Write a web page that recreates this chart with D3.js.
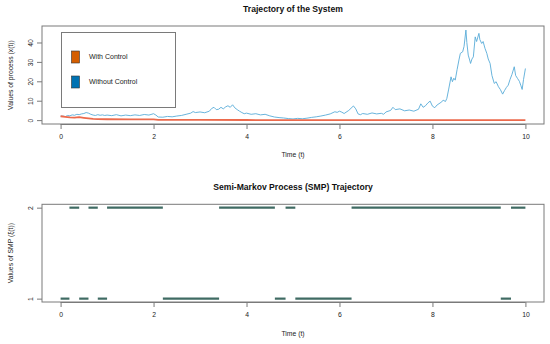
<!DOCTYPE html>
<html><head><meta charset="utf-8">
<script src="https://cdn.jsdelivr.net/npm/d3@7"></script>
<style>body{margin:0;background:#fff}svg{display:block;font-family:"Liberation Sans",Arial,sans-serif}</style>
</head><body><svg id="c" width="550" height="344"></svg>
<script>
// ---- data ----
const xTicks = [0, 2, 4, 6, 8, 10];
const yTicksTop = [0, 10, 20, 30, 40];
const yTicksBottom = [1, 2];
const seriesNames = ["With Control", "Without Control"];

const timeNoCtrl = [0,0.05,0.1,0.15,0.2,0.25,0.3,0.35,0.4,0.45,0.5,0.55,0.6,0.65,0.7,0.75,0.8,0.85,0.9,0.95,
 1.0,1.1,1.2,1.3,1.4,1.5,1.6,1.7,1.8,1.9,2.0,2.05,2.1,2.2,2.3,2.4,2.5,2.6,2.7,2.8,2.85,2.9,3.0,3.1,3.2,3.25,3.3,3.35,3.4,3.45,
 3.5,3.55,3.6,3.65,3.7,3.75,3.8,3.85,3.9,3.95,4.0,4.1,4.2,4.3,4.4,4.5,4.6,4.7,4.8,4.9,5.0,5.1,5.2,5.3,5.4,5.5,5.6,5.7,5.8,5.9,
 5.95,6.0,6.05,6.1,6.2,6.3,6.35,6.4,6.45,6.5,6.6,6.7,6.8,6.9,6.95,7.0,7.1,7.15,7.2,7.3,7.4,7.5,7.6,7.7,7.75,7.8,7.85,7.9,7.95,8.0,
 8.05,8.1,8.2,8.23,8.28,8.31,8.35,8.4,8.43,8.46,8.49,8.53,8.57,8.6,8.65,8.68,8.72,8.74,8.77,8.8,8.82,8.85,8.88,8.92,8.95,9.0,9.02,9.06,9.09,9.13,
 9.17,9.2,9.24,9.28,9.33,9.37,9.42,9.46,9.51,9.55,9.59,9.63,9.67,9.71,9.76,9.79,9.83,9.87,9.9,9.93,9.96,10.0];
const valueNoCtrl = [2.0,2.1,1.8,2.4,2.2,2.7,2.5,3.0,2.8,3.2,3.4,3.9,3.6,3.0,2.6,2.4,2.8,2.5,2.7,2.4,
 2.6,2.3,2.8,2.2,2.6,2.3,2.7,2.4,2.9,2.6,3.3,2.6,1.6,1.5,1.9,1.7,2.1,2.4,3.0,3.6,4.4,3.9,4.2,3.8,4.6,6.0,6.6,5.4,5.6,6.6,
 5.8,6.8,7.4,6.6,7.9,6.3,5.4,4.6,3.9,3.3,3.6,3.0,3.3,2.7,3.0,2.2,1.6,1.3,1.1,0.8,0.6,0.9,0.7,1.0,1.4,1.7,2.1,2.6,3.2,4.3,
 4.0,4.6,4.1,3.4,5.0,7.3,5.8,3.2,2.8,3.4,3.0,3.7,3.2,3.5,3.0,4.2,5.0,6.6,5.4,5.8,4.8,5.2,4.6,5.6,8.4,6.6,7.4,8.8,9.8,7.2,
 6.4,7.8,9.4,10.3,9.6,11.2,16.0,22.3,19.8,21.6,20.6,26.0,31.0,34.4,35.2,38.0,46.4,40.0,33.5,31.0,29.2,31.5,32.6,42.9,40.5,44.7,41.5,39.5,40.5,37.0,
 34.4,31.5,29.2,23.0,18.9,19.8,17.2,15.8,13.4,15.2,16.8,18.0,21.0,23.5,27.5,23.0,21.5,20.0,18.0,15.8,21.0,26.6];

const timeCtrl = [0,0.1,0.2,0.3,0.4,0.5,0.6,0.7,0.8,1.0,1.5,2.0,2.1,2.5,3,4,5,6,8,10];
const valueCtrl = [2.0,1.7,1.4,1.3,1.5,1.2,0.9,0.6,0.5,0.45,0.4,0.35,0.15,0.1,0.08,0.05,0.03,0.02,0.01,0.0];

// semi-Markov switching: times of jumps and state held from each
const smpTimes = [0,0.19,0.40,0.60,0.80,1.0,2.2,3.41,4.61,4.84,5.05,6.26,9.47,9.69,10.0];
const smpStates = [1,2,1,2,1,2,1,2,1,2,1,2,1,2];

// ---- drawing ----
const svg = d3.select("#c");
const W = {left: 42, right: 544};
const x = d3.scaleLinear().domain([-0.4, 10.4]).range([W.left, W.right]);
const font = "\"Liberation Sans\", Arial, sans-serif";
const boxColor = "#7a7a7a";

function panel(top, bottom, yScale, yTicks, title, ylab, titleY, xlabY) {
  const g = svg.append("g");
  g.append("rect").attr("x", W.left).attr("y", top).attr("width", W.right - W.left)
    .attr("height", bottom - top).attr("fill", "none").attr("stroke", boxColor).attr("stroke-width", 1);
  const xa = g.append("g").attr("transform", `translate(0,${bottom})`)
    .call(d3.axisBottom(x).tickValues(xTicks).tickSize(5).tickSizeOuter(0).tickPadding(5).tickFormat(d3.format("d")));
  xa.select(".domain").attr("d", `M${x(0)},0.5H${x(10)}`).attr("stroke", boxColor);
  xa.selectAll(".tick line").attr("stroke", boxColor);
  xa.selectAll("text").attr("font-size", 6.8).attr("font-family", font).attr("fill", "#222");
  const ya = g.append("g").attr("transform", `translate(${W.left},0)`)
    .call(d3.axisLeft(yScale).tickValues(yTicks).tickSize(5).tickSizeOuter(0).tickPadding(0).tickFormat(d3.format("d")));
  ya.select(".domain").remove();
  ya.selectAll(".tick line").attr("stroke", boxColor);
  ya.selectAll(".tick text").attr("font-size", 6.8).attr("font-family", font).attr("fill", "#222")
    .attr("text-anchor", "middle").attr("x", 0).attr("dy", 0)
    .attr("transform", "translate(-11,0) rotate(-90)").attr("dominant-baseline", "middle");
  g.append("text").attr("x", (W.left + W.right) / 2).attr("y", titleY).attr("text-anchor", "middle")
    .attr("font-weight", "bold").attr("font-size", 8.6).attr("font-family", font).attr("fill", "#111").text(title);
  g.append("text").attr("x", (W.left + W.right) / 2).attr("y", xlabY).attr("text-anchor", "middle")
    .attr("font-size", 6.8).attr("font-family", font).attr("fill", "#222").text("Time (t)");
  g.append("text").attr("transform", `translate(13,${(top + bottom) / 2}) rotate(-90)`).attr("text-anchor", "middle")
    .attr("font-size", 6.8).attr("font-family", font).attr("fill", "#222").text(ylab);
  return g;
}

// top panel
const yTop = d3.scaleLinear().domain([-2.0, 48.5]).range([124, 26]);
const gTop = panel(26, 124, yTop, yTicksTop, "Trajectory of the System", "Values of process (x(t))", 12, 157);
const line = d3.line().x(d => x(d[0])).y(d => yTop(d[1]));
gTop.append("path").datum(timeNoCtrl.map((t, i) => [t, valueNoCtrl[i]]))
  .attr("d", line).attr("fill", "none").attr("stroke", "#58acd8").attr("stroke-width", 0.9).attr("stroke-linejoin", "round");
gTop.append("path").datum(timeCtrl.map((t, i) => [t, valueCtrl[i]]))
  .attr("d", line).attr("fill", "none").attr("stroke", "#ec6a4c").attr("stroke-width", 1.8).attr("stroke-linejoin", "round");

// legend
const lg = gTop.append("g");
lg.append("rect").attr("x", 61.5).attr("y", 32.5).attr("width", 114).attr("height", 75)
  .attr("fill", "#fff").attr("stroke", boxColor);
const legColors = ["#d55e00", "#0072b2"];
seriesNames.forEach((n, i) => {
  const cy = 57 + i * 25;
  lg.append("rect").attr("x", 71.5).attr("y", cy - 6).attr("width", 8).attr("height", 12)
    .attr("fill", legColors[i]).attr("stroke", "#333").attr("stroke-width", 0.6);
  lg.append("text").attr("x", 89).attr("y", cy).attr("dominant-baseline", "middle")
    .attr("font-size", 7).attr("font-family", font).attr("fill", "#222").text(n);
});

// bottom panel
const yBot = d3.scaleLinear().domain([0.963, 2.037]).range([302, 204.3]);
const gBot = panel(204.3, 302, yBot, yTicksBottom, "Semi-Markov Process (SMP) Trajectory", "Values of SMP (\u03be(t))", 190, 336);
gBot.selectAll("line.seg").data(smpStates).join("line").attr("class", "seg")
  .attr("x1", (d, i) => x(smpTimes[i])).attr("x2", (d, i) => x(smpTimes[i + 1]))
  .attr("y1", d => yBot(d)).attr("y2", d => yBot(d))
  .attr("stroke", "#3f6b63").attr("stroke-width", 2.2);
</script></body></html>
